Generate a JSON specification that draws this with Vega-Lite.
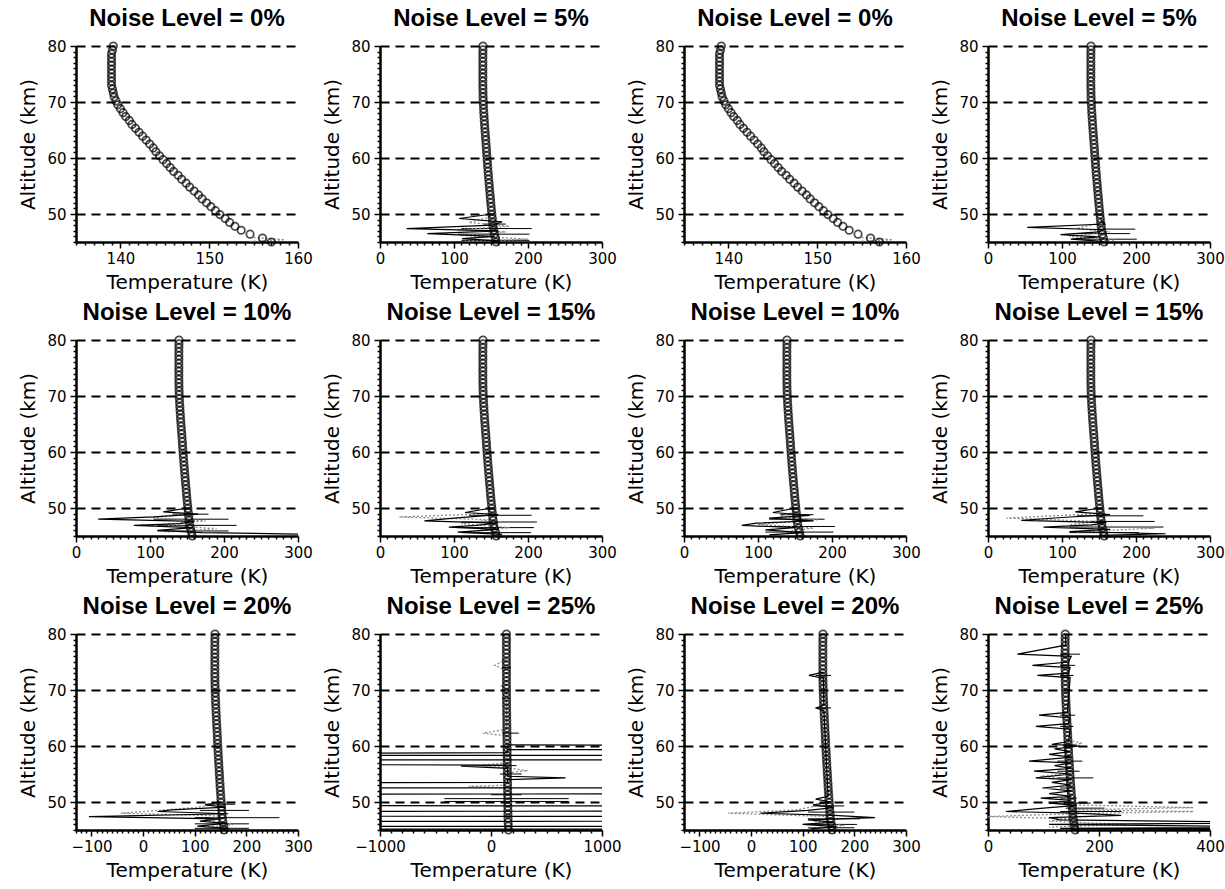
{
"$schema": "https://vega.github.io/schema/vega-lite/v6.json",
"padding": {"left": 18, "top": 6, "right": 2, "bottom": 2},
"autosize": {"type": "pad"},
"background": "white",
"config": {
  "view": {"stroke": null},
  "font": "DejaVu Sans",
  "axis": {"domainColor": "black", "domainWidth": 2.5, "tickColor": "black", "tickWidth": 1.5, "labelColor": "black", "labelFont": "DejaVu Sans", "labelFontSize": 15, "titleFont": "DejaVu Sans", "titleFontSize": 20, "titleFontWeight": "normal", "titleColor": "black", "labelFlush": false, "labelOverlap": false},
  "axisX": {"labelPadding": 3, "titlePadding": 6, "grid": false},
  "axisY": {"labelPadding": 4, "titlePadding": 8},
  "title": {"font": "Liberation Sans", "fontSize": 24, "fontWeight": "bold", "color": "black", "anchor": "middle", "frame": "group", "offset": 8}
},
"datasets": {
  "profile": [
    {"z":80,"t":139.2},{"z":79.3,"t":139.1},{"z":78.6,"t":139.0},{"z":77.9,"t":139.0},{"z":77.2,"t":139.0},{"z":76.5,"t":139.0},{"z":75.8,"t":139.0},{"z":75.1,"t":139.0},{"z":74.4,"t":139.0},{"z":73.7,"t":139.0},{"z":73.0,"t":139.0},{"z":72.3,"t":139.1},{"z":71.6,"t":139.2},{"z":70.9,"t":139.3},{"z":70.2,"t":139.5},{"z":69.5,"t":139.7},{"z":68.8,"t":140.0},{"z":68.1,"t":140.3},{"z":67.4,"t":140.6},{"z":66.7,"t":141.0},{"z":66.0,"t":141.3},{"z":65.3,"t":141.7},{"z":64.6,"t":142.1},{"z":63.9,"t":142.5},{"z":63.2,"t":142.9},{"z":62.5,"t":143.3},{"z":61.8,"t":143.7},{"z":61.1,"t":144.0},{"z":60.4,"t":144.4},{"z":59.7,"t":144.8},{"z":59.0,"t":145.2},{"z":58.3,"t":145.6},{"z":57.6,"t":146.0},{"z":56.9,"t":146.5},{"z":56.2,"t":146.9},{"z":55.5,"t":147.4},{"z":54.8,"t":147.8},{"z":54.1,"t":148.3},{"z":53.4,"t":148.8},{"z":52.7,"t":149.2},{"z":52.0,"t":149.7},{"z":51.3,"t":150.2},{"z":50.6,"t":150.7},{"z":49.9,"t":151.2},{"z":49.2,"t":151.8},{"z":48.5,"t":152.3},{"z":47.8,"t":152.9},{"z":47.1,"t":153.6},{"z":46.4,"t":154.6},{"z":45.7,"t":156.0},{"z":45.0,"t":157.0}
  ],
  "nz": [
    {"p":1,"k":"d","z":45.8,"t":155},{"p":1,"k":"d","z":45.4,"t":158.5},{"p":1,"k":"d","z":45.1,"t":154.5},
    {"p":3,"k":"d","z":45.8,"t":155},{"p":3,"k":"d","z":45.4,"t":158.5},{"p":3,"k":"d","z":45.1,"t":154.5},

    {"p":2,"k":"s","z":50.0,"t":151},{"p":2,"k":"s","z":49.2,"t":107},{"p":2,"k":"s","z":48.6,"t":165},{"p":2,"k":"s","z":48.0,"t":152},{"p":2,"k":"s","z":47.4,"t":36},{"p":2,"k":"s","z":47.0,"t":160},{"p":2,"k":"s","z":46.5,"t":64},{"p":2,"k":"s","z":46.0,"t":155},{"p":2,"k":"s","z":45.6,"t":111},{"p":2,"k":"s","z":45.2,"t":160},{"p":2,"k":"s","z":45.0,"t":150},
    {"p":2,"k":"d","z":49.5,"t":150},{"p":2,"k":"d","z":48.5,"t":120},{"p":2,"k":"d","z":47.8,"t":175},{"p":2,"k":"d","z":47.2,"t":105},{"p":2,"k":"d","z":46.8,"t":170},{"p":2,"k":"d","z":46.2,"t":108},{"p":2,"k":"d","z":45.5,"t":200},{"p":2,"k":"d","z":45.1,"t":115},
    {"p":2,"k":"e","z":48.2,"t":140,"t2":170},{"p":2,"k":"e","z":47.4,"t":110,"t2":205},{"p":2,"k":"e","z":46.4,"t":105,"t2":202},{"p":2,"k":"e","z":45.3,"t":110,"t2":202},

    {"p":4,"k":"s","z":49.0,"t":152},{"p":4,"k":"s","z":48.2,"t":158},{"p":4,"k":"s","z":47.6,"t":53},{"p":4,"k":"s","z":47.2,"t":155},{"p":4,"k":"s","z":46.8,"t":150},{"p":4,"k":"s","z":46.3,"t":98},{"p":4,"k":"s","z":45.9,"t":150},{"p":4,"k":"s","z":45.5,"t":112},{"p":4,"k":"s","z":45.1,"t":155},
    {"p":4,"k":"d","z":48.4,"t":150},{"p":4,"k":"d","z":47.4,"t":120},{"p":4,"k":"d","z":46.8,"t":165},{"p":4,"k":"d","z":46.0,"t":110},{"p":4,"k":"d","z":45.3,"t":170},
    {"p":4,"k":"e","z":47.3,"t":150,"t2":199},{"p":4,"k":"e","z":46.5,"t":120,"t2":192},{"p":4,"k":"e","z":45.5,"t":115,"t2":201},

    {"p":5,"k":"s","z":50.0,"t":151},{"p":5,"k":"s","z":49.3,"t":118},{"p":5,"k":"s","z":48.9,"t":165},{"p":5,"k":"s","z":48.4,"t":105},{"p":5,"k":"s","z":48.0,"t":30},{"p":5,"k":"s","z":47.6,"t":160},{"p":5,"k":"s","z":47.2,"t":140},{"p":5,"k":"s","z":46.9,"t":78},{"p":5,"k":"s","z":46.5,"t":158},{"p":5,"k":"s","z":46.0,"t":110},{"p":5,"k":"s","z":45.6,"t":170},{"p":5,"k":"s","z":45.3,"t":320},
    {"p":5,"k":"d","z":49.0,"t":150},{"p":5,"k":"d","z":48.3,"t":100},{"p":5,"k":"d","z":47.7,"t":175},{"p":5,"k":"d","z":47.0,"t":115},{"p":5,"k":"d","z":46.3,"t":190},{"p":5,"k":"d","z":45.7,"t":120},
    {"p":5,"k":"e","z":48.9,"t":130,"t2":179},{"p":5,"k":"e","z":48.0,"t":105,"t2":206},{"p":5,"k":"e","z":46.9,"t":110,"t2":217},{"p":5,"k":"e","z":45.9,"t":110,"t2":206},

    {"p":6,"k":"s","z":50.0,"t":151},{"p":6,"k":"s","z":49.2,"t":115},{"p":6,"k":"s","z":48.8,"t":160},{"p":6,"k":"s","z":48.2,"t":100},{"p":6,"k":"s","z":47.7,"t":60},{"p":6,"k":"s","z":47.3,"t":158},{"p":6,"k":"s","z":46.9,"t":130},{"p":6,"k":"s","z":46.6,"t":93},{"p":6,"k":"s","z":46.2,"t":160},{"p":6,"k":"s","z":45.7,"t":105},{"p":6,"k":"s","z":45.3,"t":165},
    {"p":6,"k":"d","z":49.0,"t":150},{"p":6,"k":"d","z":48.4,"t":26},{"p":6,"k":"d","z":47.9,"t":150},{"p":6,"k":"d","z":47.2,"t":110},{"p":6,"k":"d","z":46.5,"t":175},{"p":6,"k":"d","z":45.8,"t":120},
    {"p":6,"k":"e","z":48.7,"t":120,"t2":205},{"p":6,"k":"e","z":47.5,"t":110,"t2":212},{"p":6,"k":"e","z":46.5,"t":105,"t2":208},{"p":6,"k":"e","z":45.6,"t":110,"t2":204},

    {"p":7,"k":"s","z":50.0,"t":151},{"p":7,"k":"s","z":49.2,"t":120},{"p":7,"k":"s","z":48.7,"t":170},{"p":7,"k":"s","z":48.2,"t":115},{"p":7,"k":"s","z":47.7,"t":175},{"p":7,"k":"s","z":47.3,"t":98},{"p":7,"k":"s","z":46.9,"t":78},{"p":7,"k":"s","z":46.5,"t":150},{"p":7,"k":"s","z":46.1,"t":110},{"p":7,"k":"s","z":45.6,"t":160},{"p":7,"k":"s","z":45.2,"t":115},
    {"p":7,"k":"d","z":49.3,"t":150},{"p":7,"k":"d","z":48.5,"t":130},{"p":7,"k":"d","z":47.9,"t":180},{"p":7,"k":"d","z":47.1,"t":100},{"p":7,"k":"d","z":46.4,"t":175},{"p":7,"k":"d","z":45.6,"t":125},
    {"p":7,"k":"e","z":48.8,"t":130,"t2":175},{"p":7,"k":"e","z":48.0,"t":115,"t2":190},{"p":7,"k":"e","z":46.7,"t":110,"t2":204},{"p":7,"k":"e","z":45.7,"t":110,"t2":202},

    {"p":8,"k":"s","z":50.0,"t":152},{"p":8,"k":"s","z":49.3,"t":118},{"p":8,"k":"s","z":48.8,"t":165},{"p":8,"k":"s","z":48.3,"t":100},{"p":8,"k":"s","z":47.8,"t":45},{"p":8,"k":"s","z":47.4,"t":160},{"p":8,"k":"s","z":47.0,"t":140},{"p":8,"k":"s","z":46.6,"t":75},{"p":8,"k":"s","z":46.2,"t":165},{"p":8,"k":"s","z":45.8,"t":110},{"p":8,"k":"s","z":45.4,"t":240},{"p":8,"k":"s","z":45.1,"t":150},
    {"p":8,"k":"d","z":49.0,"t":150},{"p":8,"k":"d","z":48.2,"t":25},{"p":8,"k":"d","z":47.6,"t":150},{"p":8,"k":"d","z":47.0,"t":110},{"p":8,"k":"d","z":46.4,"t":225},{"p":8,"k":"d","z":45.7,"t":120},
    {"p":8,"k":"e","z":48.6,"t":120,"t2":210},{"p":8,"k":"e","z":47.6,"t":140,"t2":225},{"p":8,"k":"e","z":46.6,"t":110,"t2":237},{"p":8,"k":"e","z":45.6,"t":110,"t2":204},

    {"p":9,"k":"s","z":50.0,"t":151},{"p":9,"k":"s","z":49.5,"t":120},{"p":9,"k":"s","z":49.1,"t":160},{"p":9,"k":"s","z":48.6,"t":55},{"p":9,"k":"s","z":48.3,"t":28},{"p":9,"k":"s","z":47.9,"t":165},{"p":9,"k":"s","z":47.4,"t":-105},{"p":9,"k":"s","z":47.0,"t":150},{"p":9,"k":"s","z":46.6,"t":110},{"p":9,"k":"s","z":46.2,"t":160},{"p":9,"k":"s","z":45.7,"t":105},{"p":9,"k":"s","z":45.3,"t":165},
    {"p":9,"k":"d","z":49.7,"t":150},{"p":9,"k":"d","z":49.0,"t":100},{"p":9,"k":"d","z":48.0,"t":-43},{"p":9,"k":"d","z":47.5,"t":150},{"p":9,"k":"d","z":46.8,"t":120},{"p":9,"k":"d","z":46.0,"t":175},{"p":9,"k":"d","z":45.4,"t":115},
    {"p":9,"k":"e","z":49.6,"t":120,"t2":178},{"p":9,"k":"e","z":48.5,"t":110,"t2":205},{"p":9,"k":"e","z":47.2,"t":100,"t2":264},{"p":9,"k":"e","z":46.1,"t":100,"t2":205},{"p":9,"k":"e","z":45.3,"t":100,"t2":205},

    {"p":10,"k":"s","z":60.2,"t":146},{"p":10,"k":"s","z":59.9,"t":6000},{"p":10,"k":"s","z":59.45,"t":6000},{"p":10,"k":"s","z":59.35,"t":146},{"p":10,"k":"s","z":58.8,"t":146},{"p":10,"k":"s","z":58.35,"t":-6000},{"p":10,"k":"s","z":58.3,"t":6000},{"p":10,"k":"s","z":57.55,"t":6000},{"p":10,"k":"s","z":57.5,"t":-6000},{"p":10,"k":"s","z":56.9,"t":-6000},{"p":10,"k":"s","z":56.6,"t":145},{"p":10,"k":"s","z":56.4,"t":-270},{"p":10,"k":"s","z":56.0,"t":150},{"p":10,"k":"s","z":54.6,"t":150},{"p":10,"k":"s","z":54.3,"t":672},{"p":10,"k":"s","z":54.0,"t":150},{"p":10,"k":"s","z":53.5,"t":148},{"p":10,"k":"s","z":53.25,"t":-6000},{"p":10,"k":"s","z":52.6,"t":-6000},{"p":10,"k":"s","z":52.45,"t":6000},{"p":10,"k":"s","z":51.6,"t":6000},{"p":10,"k":"s","z":51.25,"t":-6000},{"p":10,"k":"s","z":49.4,"t":-6000},{"p":10,"k":"s","z":49.25,"t":6000},{"p":10,"k":"s","z":48.4,"t":6000},{"p":10,"k":"s","z":48.3,"t":-6000},{"p":10,"k":"s","z":47.5,"t":-6000},{"p":10,"k":"s","z":47.4,"t":6000},{"p":10,"k":"s","z":46.6,"t":6000},{"p":10,"k":"s","z":46.5,"t":-6000},{"p":10,"k":"s","z":45.7,"t":-6000},{"p":10,"k":"s","z":45.6,"t":6000},{"p":10,"k":"s","z":45.2,"t":6000},{"p":10,"k":"s","z":45.1,"t":-6000},{"p":10,"k":"s","z":45.0,"t":-6000},
    {"p":10,"k":"d","z":75.5,"t":140},{"p":10,"k":"d","z":74.4,"t":33},{"p":10,"k":"d","z":73.5,"t":140},{"p":10,"k":"d","z":71.0,"t":140},{"p":10,"k":"d","z":70.7,"t":94},{"p":10,"k":"d","z":70.3,"t":140},{"p":10,"k":"d","z":63.0,"t":141},{"p":10,"k":"d","z":62.3,"t":-73},{"p":10,"k":"d","z":61.8,"t":142},{"p":10,"k":"d","z":57.0,"t":146},{"p":10,"k":"d","z":56.6,"t":-80},{"p":10,"k":"d","z":56.1,"t":146},{"p":10,"k":"d","z":55.6,"t":330},{"p":10,"k":"d","z":55.2,"t":147},{"p":10,"k":"d","z":53.0,"t":148},{"p":10,"k":"d","z":52.8,"t":-200},{"p":10,"k":"d","z":52.5,"t":148},
    {"p":10,"k":"e","z":74.0,"t":100,"t2":180},{"p":10,"k":"e","z":68.5,"t":100,"t2":170},{"p":10,"k":"e","z":62.3,"t":100,"t2":250},{"p":10,"k":"e","z":56.5,"t":50,"t2":230},{"p":10,"k":"e","z":55.0,"t":80,"t2":276},{"p":10,"k":"e","z":51.3,"t":0,"t2":276},{"p":10,"k":"e","z":50.6,"t":-420,"t2":700},{"p":10,"k":"e","z":50.1,"t":-420,"t2":700},

    {"p":11,"k":"s","z":73.2,"t":140},{"p":11,"k":"s","z":72.6,"t":112},{"p":11,"k":"s","z":72.1,"t":140},{"p":11,"k":"s","z":67.3,"t":141},{"p":11,"k":"s","z":66.8,"t":126},{"p":11,"k":"s","z":66.3,"t":141},{"p":11,"k":"s","z":51.0,"t":149},{"p":11,"k":"s","z":50.5,"t":125},{"p":11,"k":"s","z":50.0,"t":155},{"p":11,"k":"s","z":49.5,"t":120},{"p":11,"k":"s","z":49.0,"t":160},{"p":11,"k":"s","z":48.5,"t":110},{"p":11,"k":"s","z":48.0,"t":18},{"p":11,"k":"s","z":47.6,"t":160},{"p":11,"k":"s","z":47.2,"t":240},{"p":11,"k":"s","z":46.8,"t":110},{"p":11,"k":"s","z":46.4,"t":160},{"p":11,"k":"s","z":46.0,"t":100},{"p":11,"k":"s","z":45.6,"t":165},{"p":11,"k":"s","z":45.2,"t":115},
    {"p":11,"k":"d","z":49.8,"t":150},{"p":11,"k":"d","z":48.6,"t":90},{"p":11,"k":"d","z":48.0,"t":-45},{"p":11,"k":"d","z":47.4,"t":150},{"p":11,"k":"d","z":46.6,"t":120},{"p":11,"k":"d","z":45.8,"t":180},{"p":11,"k":"d","z":45.3,"t":110},
    {"p":11,"k":"e","z":72.6,"t":125,"t2":155},{"p":11,"k":"e","z":66.8,"t":130,"t2":155},{"p":11,"k":"e","z":49.3,"t":120,"t2":180},{"p":11,"k":"e","z":48.2,"t":110,"t2":200},{"p":11,"k":"e","z":47.0,"t":110,"t2":211},{"p":11,"k":"e","z":46.0,"t":100,"t2":205},{"p":11,"k":"e","z":45.4,"t":110,"t2":200},

    {"p":12,"k":"s","z":80.0,"t":140},{"p":12,"k":"s","z":78.0,"t":140},{"p":12,"k":"s","z":76.4,"t":53},{"p":12,"k":"s","z":76.0,"t":150},{"p":12,"k":"s","z":75.0,"t":145},{"p":12,"k":"s","z":74.4,"t":80},{"p":12,"k":"s","z":74.0,"t":148},{"p":12,"k":"s","z":73.0,"t":145},{"p":12,"k":"s","z":72.6,"t":89},{"p":12,"k":"s","z":72.2,"t":148},{"p":12,"k":"s","z":66.0,"t":143},{"p":12,"k":"s","z":65.5,"t":92},{"p":12,"k":"s","z":65.0,"t":148},{"p":12,"k":"s","z":64.0,"t":144},{"p":12,"k":"s","z":63.5,"t":86},{"p":12,"k":"s","z":63.0,"t":148},{"p":12,"k":"s","z":60.8,"t":145},{"p":12,"k":"s","z":60.3,"t":115},{"p":12,"k":"s","z":60.0,"t":165},{"p":12,"k":"s","z":59.5,"t":120},{"p":12,"k":"s","z":59.0,"t":148},{"p":12,"k":"s","z":58.5,"t":110},{"p":12,"k":"s","z":58.0,"t":150},{"p":12,"k":"s","z":57.3,"t":74},{"p":12,"k":"s","z":57.0,"t":150},{"p":12,"k":"s","z":56.5,"t":120},{"p":12,"k":"s","z":56.0,"t":150},{"p":12,"k":"s","z":55.5,"t":83},{"p":12,"k":"s","z":55.0,"t":150},{"p":12,"k":"s","z":54.3,"t":86},{"p":12,"k":"s","z":54.0,"t":150},{"p":12,"k":"s","z":53.5,"t":115},{"p":12,"k":"s","z":53.0,"t":150},{"p":12,"k":"s","z":52.5,"t":98},{"p":12,"k":"s","z":52.0,"t":150},{"p":12,"k":"s","z":51.5,"t":110},{"p":12,"k":"s","z":51.0,"t":150},{"p":12,"k":"s","z":50.7,"t":95},{"p":12,"k":"s","z":50.3,"t":150},{"p":12,"k":"s","z":49.8,"t":110},{"p":12,"k":"s","z":49.4,"t":160},{"p":12,"k":"s","z":48.9,"t":100},{"p":12,"k":"s","z":48.3,"t":32},{"p":12,"k":"s","z":48.0,"t":160},{"p":12,"k":"s","z":47.6,"t":240},{"p":12,"k":"s","z":47.2,"t":110},{"p":12,"k":"s","z":46.8,"t":130},{"p":12,"k":"s","z":46.3,"t":600},{"p":12,"k":"s","z":46.0,"t":110},{"p":12,"k":"s","z":45.5,"t":600},{"p":12,"k":"s","z":45.3,"t":130},{"p":12,"k":"s","z":45.1,"t":600},{"p":12,"k":"s","z":45.0,"t":150},
    {"p":12,"k":"d","z":61.0,"t":145},{"p":12,"k":"d","z":60.5,"t":170},{"p":12,"k":"d","z":60.0,"t":140},{"p":12,"k":"d","z":55.0,"t":140},{"p":12,"k":"d","z":54.6,"t":95},{"p":12,"k":"d","z":54.2,"t":140},{"p":12,"k":"d","z":49.5,"t":150},{"p":12,"k":"d","z":49.0,"t":370},{"p":12,"k":"d","z":48.6,"t":150},{"p":12,"k":"d","z":48.3,"t":370},{"p":12,"k":"d","z":47.9,"t":150},{"p":12,"k":"d","z":47.4,"t":0},{"p":12,"k":"d","z":47.0,"t":150},{"p":12,"k":"d","z":46.6,"t":110},{"p":12,"k":"d","z":46.0,"t":250},{"p":12,"k":"d","z":45.5,"t":110},
    {"p":12,"k":"e","z":76.4,"t":130,"t2":166},{"p":12,"k":"e","z":74.4,"t":130,"t2":157},{"p":12,"k":"e","z":72.6,"t":130,"t2":154},{"p":12,"k":"e","z":65.5,"t":130,"t2":157},{"p":12,"k":"e","z":63.5,"t":130,"t2":154},{"p":12,"k":"e","z":60.2,"t":135,"t2":160},{"p":12,"k":"e","z":57.3,"t":125,"t2":170},{"p":12,"k":"e","z":55.5,"t":125,"t2":165},{"p":12,"k":"e","z":54.3,"t":125,"t2":190},{"p":12,"k":"e","z":52.5,"t":130,"t2":157},{"p":12,"k":"e","z":50.7,"t":130,"t2":160},{"p":12,"k":"e","z":49.8,"t":120,"t2":185},{"p":12,"k":"e","z":48.9,"t":140,"t2":210},{"p":12,"k":"e","z":48.3,"t":130,"t2":241}
  ]
},
"columns": 4,
"spacing": {"row": 98, "column": 82},
"bounds": "flush",
"concat": [
  {"width":222,"height":196,"title":"Noise Level = 0%",
   "encoding":{"x":{"field":"t","type":"quantitative","scale":{"domain":[135,160],"nice":false,"zero":false},"axis":{"title":"Temperature (K)","format":"d","tickCount":25,"labelExpr":"datum.value % 10 === 0 ? datum.label : ''","tickSize":{"condition":{"test":"datum.value % 10 === 0","value":6},"value":3}}},
     "y":{"field":"z","type":"quantitative","scale":{"domain":[45,80],"nice":false,"zero":false},"axis":{"title":"Altitude (km)","format":"d","tickCount":35,"labelExpr":"datum.value % 10 === 0 ? datum.label : ''","grid":true,"gridColor":"black","gridWidth":1.8,"gridDash":[9,6],"gridOpacity":{"condition":{"test":"datum.value % 10 === 0","value":1},"value":0},"tickSize":{"condition":{"test":"datum.value % 10 === 0","value":6},"value":3}}}},
   "layer":[
     {"data":{"name":"nz"},"transform":[{"filter":"datum.p==1 && datum.k=='e'"}],"mark":{"type":"rule","color":"black","strokeWidth":1,"clip":true},"encoding":{"x2":{"field":"t2"}}},
     {"data":{"name":"nz"},"transform":[{"filter":"datum.p==1 && datum.k=='d'"}],"mark":{"type":"line","color":"#8c8c8c","strokeWidth":1.3,"strokeDash":[2,2],"clip":true},"encoding":{"order":{"field":"z","sort":"descending"}}},
     {"data":{"name":"nz"},"transform":[{"filter":"datum.p==1 && datum.k=='s'"}],"mark":{"type":"line","color":"black","strokeWidth":1.2,"clip":true},"encoding":{"order":{"field":"z","sort":"descending"}}},
     {"data":{"name":"profile"},"mark":{"type":"point","shape":"circle","filled":false,"size":55,"color":"black","strokeWidth":1.8}}
   ]},
  {"width":222,"height":196,"title":"Noise Level = 5%",
   "encoding":{"x":{"field":"t","type":"quantitative","scale":{"domain":[0,300],"nice":false,"zero":false},"axis":{"title":"Temperature (K)","format":"d","tickCount":30,"labelExpr":"datum.value % 100 === 0 ? datum.label : ''","tickSize":{"condition":{"test":"datum.value % 100 === 0","value":6},"value":3}}},
     "y":{"field":"z","type":"quantitative","scale":{"domain":[45,80],"nice":false,"zero":false},"axis":{"title":"Altitude (km)","format":"d","tickCount":35,"labelExpr":"datum.value % 10 === 0 ? datum.label : ''","grid":true,"gridColor":"black","gridWidth":1.8,"gridDash":[9,6],"gridOpacity":{"condition":{"test":"datum.value % 10 === 0","value":1},"value":0},"tickSize":{"condition":{"test":"datum.value % 10 === 0","value":6},"value":3}}}},
   "layer":[
     {"data":{"name":"nz"},"transform":[{"filter":"datum.p==2 && datum.k=='e'"}],"mark":{"type":"rule","color":"black","strokeWidth":1,"clip":true},"encoding":{"x2":{"field":"t2"}}},
     {"data":{"name":"nz"},"transform":[{"filter":"datum.p==2 && datum.k=='d'"}],"mark":{"type":"line","color":"#8c8c8c","strokeWidth":1.3,"strokeDash":[2,2],"clip":true},"encoding":{"order":{"field":"z","sort":"descending"}}},
     {"data":{"name":"nz"},"transform":[{"filter":"datum.p==2 && datum.k=='s'"}],"mark":{"type":"line","color":"black","strokeWidth":1.2,"clip":true},"encoding":{"order":{"field":"z","sort":"descending"}}},
     {"data":{"name":"profile"},"mark":{"type":"point","shape":"circle","filled":false,"size":55,"color":"black","strokeWidth":1.8}}
   ]},
  {"width":222,"height":196,"title":"Noise Level = 0%",
   "encoding":{"x":{"field":"t","type":"quantitative","scale":{"domain":[135,160],"nice":false,"zero":false},"axis":{"title":"Temperature (K)","format":"d","tickCount":25,"labelExpr":"datum.value % 10 === 0 ? datum.label : ''","tickSize":{"condition":{"test":"datum.value % 10 === 0","value":6},"value":3}}},
     "y":{"field":"z","type":"quantitative","scale":{"domain":[45,80],"nice":false,"zero":false},"axis":{"title":"Altitude (km)","format":"d","tickCount":35,"labelExpr":"datum.value % 10 === 0 ? datum.label : ''","grid":true,"gridColor":"black","gridWidth":1.8,"gridDash":[9,6],"gridOpacity":{"condition":{"test":"datum.value % 10 === 0","value":1},"value":0},"tickSize":{"condition":{"test":"datum.value % 10 === 0","value":6},"value":3}}}},
   "layer":[
     {"data":{"name":"nz"},"transform":[{"filter":"datum.p==3 && datum.k=='e'"}],"mark":{"type":"rule","color":"black","strokeWidth":1,"clip":true},"encoding":{"x2":{"field":"t2"}}},
     {"data":{"name":"nz"},"transform":[{"filter":"datum.p==3 && datum.k=='d'"}],"mark":{"type":"line","color":"#8c8c8c","strokeWidth":1.3,"strokeDash":[2,2],"clip":true},"encoding":{"order":{"field":"z","sort":"descending"}}},
     {"data":{"name":"nz"},"transform":[{"filter":"datum.p==3 && datum.k=='s'"}],"mark":{"type":"line","color":"black","strokeWidth":1.2,"clip":true},"encoding":{"order":{"field":"z","sort":"descending"}}},
     {"data":{"name":"profile"},"mark":{"type":"point","shape":"circle","filled":false,"size":55,"color":"black","strokeWidth":1.8}}
   ]},
  {"width":222,"height":196,"title":"Noise Level = 5%",
   "encoding":{"x":{"field":"t","type":"quantitative","scale":{"domain":[0,300],"nice":false,"zero":false},"axis":{"title":"Temperature (K)","format":"d","tickCount":30,"labelExpr":"datum.value % 100 === 0 ? datum.label : ''","tickSize":{"condition":{"test":"datum.value % 100 === 0","value":6},"value":3}}},
     "y":{"field":"z","type":"quantitative","scale":{"domain":[45,80],"nice":false,"zero":false},"axis":{"title":"Altitude (km)","format":"d","tickCount":35,"labelExpr":"datum.value % 10 === 0 ? datum.label : ''","grid":true,"gridColor":"black","gridWidth":1.8,"gridDash":[9,6],"gridOpacity":{"condition":{"test":"datum.value % 10 === 0","value":1},"value":0},"tickSize":{"condition":{"test":"datum.value % 10 === 0","value":6},"value":3}}}},
   "layer":[
     {"data":{"name":"nz"},"transform":[{"filter":"datum.p==4 && datum.k=='e'"}],"mark":{"type":"rule","color":"black","strokeWidth":1,"clip":true},"encoding":{"x2":{"field":"t2"}}},
     {"data":{"name":"nz"},"transform":[{"filter":"datum.p==4 && datum.k=='d'"}],"mark":{"type":"line","color":"#8c8c8c","strokeWidth":1.3,"strokeDash":[2,2],"clip":true},"encoding":{"order":{"field":"z","sort":"descending"}}},
     {"data":{"name":"nz"},"transform":[{"filter":"datum.p==4 && datum.k=='s'"}],"mark":{"type":"line","color":"black","strokeWidth":1.2,"clip":true},"encoding":{"order":{"field":"z","sort":"descending"}}},
     {"data":{"name":"profile"},"mark":{"type":"point","shape":"circle","filled":false,"size":55,"color":"black","strokeWidth":1.8}}
   ]},
  {"width":222,"height":196,"title":"Noise Level = 10%",
   "encoding":{"x":{"field":"t","type":"quantitative","scale":{"domain":[0,300],"nice":false,"zero":false},"axis":{"title":"Temperature (K)","format":"d","tickCount":30,"labelExpr":"datum.value % 100 === 0 ? datum.label : ''","tickSize":{"condition":{"test":"datum.value % 100 === 0","value":6},"value":3}}},
     "y":{"field":"z","type":"quantitative","scale":{"domain":[45,80],"nice":false,"zero":false},"axis":{"title":"Altitude (km)","format":"d","tickCount":35,"labelExpr":"datum.value % 10 === 0 ? datum.label : ''","grid":true,"gridColor":"black","gridWidth":1.8,"gridDash":[9,6],"gridOpacity":{"condition":{"test":"datum.value % 10 === 0","value":1},"value":0},"tickSize":{"condition":{"test":"datum.value % 10 === 0","value":6},"value":3}}}},
   "layer":[
     {"data":{"name":"nz"},"transform":[{"filter":"datum.p==5 && datum.k=='e'"}],"mark":{"type":"rule","color":"black","strokeWidth":1,"clip":true},"encoding":{"x2":{"field":"t2"}}},
     {"data":{"name":"nz"},"transform":[{"filter":"datum.p==5 && datum.k=='d'"}],"mark":{"type":"line","color":"#8c8c8c","strokeWidth":1.3,"strokeDash":[2,2],"clip":true},"encoding":{"order":{"field":"z","sort":"descending"}}},
     {"data":{"name":"nz"},"transform":[{"filter":"datum.p==5 && datum.k=='s'"}],"mark":{"type":"line","color":"black","strokeWidth":1.2,"clip":true},"encoding":{"order":{"field":"z","sort":"descending"}}},
     {"data":{"name":"profile"},"mark":{"type":"point","shape":"circle","filled":false,"size":55,"color":"black","strokeWidth":1.8}}
   ]},
  {"width":222,"height":196,"title":"Noise Level = 15%",
   "encoding":{"x":{"field":"t","type":"quantitative","scale":{"domain":[0,300],"nice":false,"zero":false},"axis":{"title":"Temperature (K)","format":"d","tickCount":30,"labelExpr":"datum.value % 100 === 0 ? datum.label : ''","tickSize":{"condition":{"test":"datum.value % 100 === 0","value":6},"value":3}}},
     "y":{"field":"z","type":"quantitative","scale":{"domain":[45,80],"nice":false,"zero":false},"axis":{"title":"Altitude (km)","format":"d","tickCount":35,"labelExpr":"datum.value % 10 === 0 ? datum.label : ''","grid":true,"gridColor":"black","gridWidth":1.8,"gridDash":[9,6],"gridOpacity":{"condition":{"test":"datum.value % 10 === 0","value":1},"value":0},"tickSize":{"condition":{"test":"datum.value % 10 === 0","value":6},"value":3}}}},
   "layer":[
     {"data":{"name":"nz"},"transform":[{"filter":"datum.p==6 && datum.k=='e'"}],"mark":{"type":"rule","color":"black","strokeWidth":1,"clip":true},"encoding":{"x2":{"field":"t2"}}},
     {"data":{"name":"nz"},"transform":[{"filter":"datum.p==6 && datum.k=='d'"}],"mark":{"type":"line","color":"#8c8c8c","strokeWidth":1.3,"strokeDash":[2,2],"clip":true},"encoding":{"order":{"field":"z","sort":"descending"}}},
     {"data":{"name":"nz"},"transform":[{"filter":"datum.p==6 && datum.k=='s'"}],"mark":{"type":"line","color":"black","strokeWidth":1.2,"clip":true},"encoding":{"order":{"field":"z","sort":"descending"}}},
     {"data":{"name":"profile"},"mark":{"type":"point","shape":"circle","filled":false,"size":55,"color":"black","strokeWidth":1.8}}
   ]},
  {"width":222,"height":196,"title":"Noise Level = 10%",
   "encoding":{"x":{"field":"t","type":"quantitative","scale":{"domain":[0,300],"nice":false,"zero":false},"axis":{"title":"Temperature (K)","format":"d","tickCount":30,"labelExpr":"datum.value % 100 === 0 ? datum.label : ''","tickSize":{"condition":{"test":"datum.value % 100 === 0","value":6},"value":3}}},
     "y":{"field":"z","type":"quantitative","scale":{"domain":[45,80],"nice":false,"zero":false},"axis":{"title":"Altitude (km)","format":"d","tickCount":35,"labelExpr":"datum.value % 10 === 0 ? datum.label : ''","grid":true,"gridColor":"black","gridWidth":1.8,"gridDash":[9,6],"gridOpacity":{"condition":{"test":"datum.value % 10 === 0","value":1},"value":0},"tickSize":{"condition":{"test":"datum.value % 10 === 0","value":6},"value":3}}}},
   "layer":[
     {"data":{"name":"nz"},"transform":[{"filter":"datum.p==7 && datum.k=='e'"}],"mark":{"type":"rule","color":"black","strokeWidth":1,"clip":true},"encoding":{"x2":{"field":"t2"}}},
     {"data":{"name":"nz"},"transform":[{"filter":"datum.p==7 && datum.k=='d'"}],"mark":{"type":"line","color":"#8c8c8c","strokeWidth":1.3,"strokeDash":[2,2],"clip":true},"encoding":{"order":{"field":"z","sort":"descending"}}},
     {"data":{"name":"nz"},"transform":[{"filter":"datum.p==7 && datum.k=='s'"}],"mark":{"type":"line","color":"black","strokeWidth":1.2,"clip":true},"encoding":{"order":{"field":"z","sort":"descending"}}},
     {"data":{"name":"profile"},"mark":{"type":"point","shape":"circle","filled":false,"size":55,"color":"black","strokeWidth":1.8}}
   ]},
  {"width":222,"height":196,"title":"Noise Level = 15%",
   "encoding":{"x":{"field":"t","type":"quantitative","scale":{"domain":[0,300],"nice":false,"zero":false},"axis":{"title":"Temperature (K)","format":"d","tickCount":30,"labelExpr":"datum.value % 100 === 0 ? datum.label : ''","tickSize":{"condition":{"test":"datum.value % 100 === 0","value":6},"value":3}}},
     "y":{"field":"z","type":"quantitative","scale":{"domain":[45,80],"nice":false,"zero":false},"axis":{"title":"Altitude (km)","format":"d","tickCount":35,"labelExpr":"datum.value % 10 === 0 ? datum.label : ''","grid":true,"gridColor":"black","gridWidth":1.8,"gridDash":[9,6],"gridOpacity":{"condition":{"test":"datum.value % 10 === 0","value":1},"value":0},"tickSize":{"condition":{"test":"datum.value % 10 === 0","value":6},"value":3}}}},
   "layer":[
     {"data":{"name":"nz"},"transform":[{"filter":"datum.p==8 && datum.k=='e'"}],"mark":{"type":"rule","color":"black","strokeWidth":1,"clip":true},"encoding":{"x2":{"field":"t2"}}},
     {"data":{"name":"nz"},"transform":[{"filter":"datum.p==8 && datum.k=='d'"}],"mark":{"type":"line","color":"#8c8c8c","strokeWidth":1.3,"strokeDash":[2,2],"clip":true},"encoding":{"order":{"field":"z","sort":"descending"}}},
     {"data":{"name":"nz"},"transform":[{"filter":"datum.p==8 && datum.k=='s'"}],"mark":{"type":"line","color":"black","strokeWidth":1.2,"clip":true},"encoding":{"order":{"field":"z","sort":"descending"}}},
     {"data":{"name":"profile"},"mark":{"type":"point","shape":"circle","filled":false,"size":55,"color":"black","strokeWidth":1.8}}
   ]},
  {"width":222,"height":196,"title":"Noise Level = 20%",
   "encoding":{"x":{"field":"t","type":"quantitative","scale":{"domain":[-130,300],"nice":false,"zero":false},"axis":{"title":"Temperature (K)","format":"d","tickCount":43,"labelExpr":"datum.value % 100 === 0 ? datum.label : ''","tickSize":{"condition":{"test":"datum.value % 100 === 0","value":6},"value":3}}},
     "y":{"field":"z","type":"quantitative","scale":{"domain":[45,80],"nice":false,"zero":false},"axis":{"title":"Altitude (km)","format":"d","tickCount":35,"labelExpr":"datum.value % 10 === 0 ? datum.label : ''","grid":true,"gridColor":"black","gridWidth":1.8,"gridDash":[9,6],"gridOpacity":{"condition":{"test":"datum.value % 10 === 0","value":1},"value":0},"tickSize":{"condition":{"test":"datum.value % 10 === 0","value":6},"value":3}}}},
   "layer":[
     {"data":{"name":"nz"},"transform":[{"filter":"datum.p==9 && datum.k=='e'"}],"mark":{"type":"rule","color":"black","strokeWidth":1,"clip":true},"encoding":{"x2":{"field":"t2"}}},
     {"data":{"name":"nz"},"transform":[{"filter":"datum.p==9 && datum.k=='d'"}],"mark":{"type":"line","color":"#8c8c8c","strokeWidth":1.3,"strokeDash":[2,2],"clip":true},"encoding":{"order":{"field":"z","sort":"descending"}}},
     {"data":{"name":"nz"},"transform":[{"filter":"datum.p==9 && datum.k=='s'"}],"mark":{"type":"line","color":"black","strokeWidth":1.2,"clip":true},"encoding":{"order":{"field":"z","sort":"descending"}}},
     {"data":{"name":"profile"},"mark":{"type":"point","shape":"circle","filled":false,"size":55,"color":"black","strokeWidth":1.8}}
   ]},
  {"width":222,"height":196,"title":"Noise Level = 25%",
   "encoding":{"x":{"field":"t","type":"quantitative","scale":{"domain":[-1000,1000],"nice":false,"zero":false},"axis":{"title":"Temperature (K)","format":"d","tickCount":20,"labelExpr":"datum.value % 1000 === 0 ? datum.label : ''","tickSize":{"condition":{"test":"datum.value % 1000 === 0","value":6},"value":3}}},
     "y":{"field":"z","type":"quantitative","scale":{"domain":[45,80],"nice":false,"zero":false},"axis":{"title":"Altitude (km)","format":"d","tickCount":35,"labelExpr":"datum.value % 10 === 0 ? datum.label : ''","grid":true,"gridColor":"black","gridWidth":1.8,"gridDash":[9,6],"gridOpacity":{"condition":{"test":"datum.value % 10 === 0","value":1},"value":0},"tickSize":{"condition":{"test":"datum.value % 10 === 0","value":6},"value":3}}}},
   "layer":[
     {"data":{"name":"nz"},"transform":[{"filter":"datum.p==10 && datum.k=='e'"}],"mark":{"type":"rule","color":"black","strokeWidth":1,"clip":true},"encoding":{"x2":{"field":"t2"}}},
     {"data":{"name":"nz"},"transform":[{"filter":"datum.p==10 && datum.k=='d'"}],"mark":{"type":"line","color":"#8c8c8c","strokeWidth":1.3,"strokeDash":[2,2],"clip":true},"encoding":{"order":{"field":"z","sort":"descending"}}},
     {"data":{"name":"nz"},"transform":[{"filter":"datum.p==10 && datum.k=='s'"}],"mark":{"type":"line","color":"black","strokeWidth":1.2,"clip":true},"encoding":{"order":{"field":"z","sort":"descending"}}},
     {"data":{"name":"profile"},"mark":{"type":"point","shape":"circle","filled":false,"size":55,"color":"black","strokeWidth":1.8}}
   ]},
  {"width":222,"height":196,"title":"Noise Level = 20%",
   "encoding":{"x":{"field":"t","type":"quantitative","scale":{"domain":[-130,300],"nice":false,"zero":false},"axis":{"title":"Temperature (K)","format":"d","tickCount":43,"labelExpr":"datum.value % 100 === 0 ? datum.label : ''","tickSize":{"condition":{"test":"datum.value % 100 === 0","value":6},"value":3}}},
     "y":{"field":"z","type":"quantitative","scale":{"domain":[45,80],"nice":false,"zero":false},"axis":{"title":"Altitude (km)","format":"d","tickCount":35,"labelExpr":"datum.value % 10 === 0 ? datum.label : ''","grid":true,"gridColor":"black","gridWidth":1.8,"gridDash":[9,6],"gridOpacity":{"condition":{"test":"datum.value % 10 === 0","value":1},"value":0},"tickSize":{"condition":{"test":"datum.value % 10 === 0","value":6},"value":3}}}},
   "layer":[
     {"data":{"name":"nz"},"transform":[{"filter":"datum.p==11 && datum.k=='e'"}],"mark":{"type":"rule","color":"black","strokeWidth":1,"clip":true},"encoding":{"x2":{"field":"t2"}}},
     {"data":{"name":"nz"},"transform":[{"filter":"datum.p==11 && datum.k=='d'"}],"mark":{"type":"line","color":"#8c8c8c","strokeWidth":1.3,"strokeDash":[2,2],"clip":true},"encoding":{"order":{"field":"z","sort":"descending"}}},
     {"data":{"name":"nz"},"transform":[{"filter":"datum.p==11 && datum.k=='s'"}],"mark":{"type":"line","color":"black","strokeWidth":1.2,"clip":true},"encoding":{"order":{"field":"z","sort":"descending"}}},
     {"data":{"name":"profile"},"mark":{"type":"point","shape":"circle","filled":false,"size":55,"color":"black","strokeWidth":1.8}}
   ]},
  {"width":222,"height":196,"title":"Noise Level = 25%",
   "encoding":{"x":{"field":"t","type":"quantitative","scale":{"domain":[0,400],"nice":false,"zero":false},"axis":{"title":"Temperature (K)","format":"d","tickCount":20,"labelExpr":"datum.value % 200 === 0 ? datum.label : ''","tickSize":{"condition":{"test":"datum.value % 200 === 0","value":6},"value":3}}},
     "y":{"field":"z","type":"quantitative","scale":{"domain":[45,80],"nice":false,"zero":false},"axis":{"title":"Altitude (km)","format":"d","tickCount":35,"labelExpr":"datum.value % 10 === 0 ? datum.label : ''","grid":true,"gridColor":"black","gridWidth":1.8,"gridDash":[9,6],"gridOpacity":{"condition":{"test":"datum.value % 10 === 0","value":1},"value":0},"tickSize":{"condition":{"test":"datum.value % 10 === 0","value":6},"value":3}}}},
   "layer":[
     {"data":{"name":"nz"},"transform":[{"filter":"datum.p==12 && datum.k=='e'"}],"mark":{"type":"rule","color":"black","strokeWidth":1,"clip":true},"encoding":{"x2":{"field":"t2"}}},
     {"data":{"name":"nz"},"transform":[{"filter":"datum.p==12 && datum.k=='d'"}],"mark":{"type":"line","color":"#8c8c8c","strokeWidth":1.3,"strokeDash":[2,2],"clip":true},"encoding":{"order":{"field":"z","sort":"descending"}}},
     {"data":{"name":"nz"},"transform":[{"filter":"datum.p==12 && datum.k=='s'"}],"mark":{"type":"line","color":"black","strokeWidth":1.2,"clip":true},"encoding":{"order":{"field":"z","sort":"descending"}}},
     {"data":{"name":"profile"},"mark":{"type":"point","shape":"circle","filled":false,"size":55,"color":"black","strokeWidth":1.8}}
   ]}
]
}
